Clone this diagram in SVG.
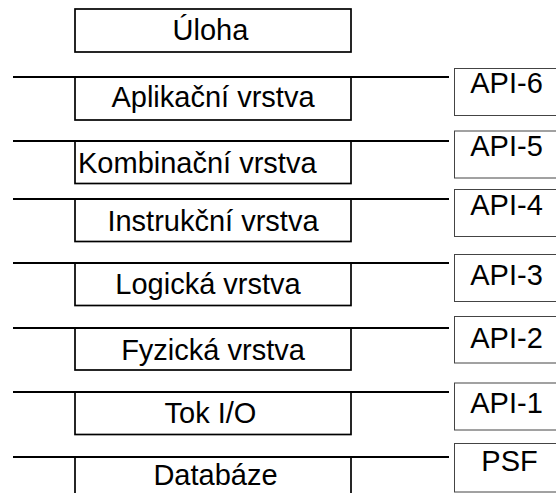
<svg xmlns="http://www.w3.org/2000/svg" width="556" height="493" viewBox="0 0 556 493">
<style>
.layer{fill:#fff;stroke:#000;stroke-width:1.7}
.api{fill:#fff;stroke:#444;stroke-width:1}
.sep{stroke:#000;stroke-width:2;fill:none}
text{font-family:"Liberation Sans",Arial,sans-serif;font-size:29px;fill:#000}
.c{text-anchor:middle}
</style>
<rect width="556" height="493" fill="#fff"/>
<g id="uloha"><rect class="layer" x="75" y="9" width="276" height="43"/><text class="c" x="210.5" y="40">Úloha</text></g>
<g id="aplikacni"><rect class="layer" x="75" y="77" width="276" height="43"/><text class="c" x="213" y="107">Aplikační vrstva</text></g>
<g id="kombinacni"><rect class="layer" x="75" y="141" width="276" height="42.5"/><text x="78" y="173">Kombinační vrstva</text></g>
<g id="instrukcni"><rect class="layer" x="75" y="199" width="276" height="42.5"/><text class="c" x="213" y="231">Instrukční vrstva</text></g>
<g id="logicka"><rect class="layer" x="75" y="263" width="276" height="42.5"/><text class="c" x="208" y="293.5">Logická vrstva</text></g>
<g id="fyzicka"><rect class="layer" x="75" y="328" width="276" height="42"/><text class="c" x="213" y="359.5">Fyzická vrstva</text></g>
<g id="tok"><rect class="layer" x="75" y="392" width="276" height="42.5"/><text class="c" x="210.5" y="422.5">Tok I/O</text></g>
<g id="databaze"><rect class="layer" x="75" y="457" width="276" height="50"/><text class="c" x="215.5" y="485">Databáze</text></g>
<g id="connectors">
<line class="sep" x1="13" y1="77" x2="449" y2="77"/>
<line class="sep" x1="13" y1="141" x2="449" y2="141"/>
<line class="sep" x1="13" y1="199" x2="449" y2="199"/>
<line class="sep" x1="13" y1="263" x2="449" y2="263"/>
<line class="sep" x1="13" y1="328" x2="449" y2="328"/>
<line class="sep" x1="13" y1="392" x2="449" y2="392"/>
<line class="sep" x1="13" y1="457" x2="449" y2="457"/>
</g>
<g id="api6"><rect class="api" x="454.5" y="68.5" width="110" height="47"/><text class="c" x="506.5" y="93">API-6</text></g>
<g id="api5"><rect class="api" x="454.5" y="131" width="110" height="47"/><text class="c" x="506.5" y="156">API-5</text></g>
<g id="api4"><rect class="api" x="454.5" y="189.5" width="110" height="47"/><text class="c" x="506.5" y="215">API-4</text></g>
<g id="api3"><rect class="api" x="454.5" y="254.5" width="110" height="47"/><text class="c" x="506.5" y="285">API-3</text></g>
<g id="api2"><rect class="api" x="454.5" y="316.5" width="110" height="46.5"/><text class="c" x="506.5" y="348">API-2</text></g>
<g id="api1"><rect class="api" x="454.5" y="383" width="110" height="47"/><text class="c" x="506.5" y="413">API-1</text></g>
<g id="psf"><rect class="api" x="454.5" y="443.5" width="110" height="48.5"/><text class="c" x="509.5" y="471">PSF</text></g>
</svg>
